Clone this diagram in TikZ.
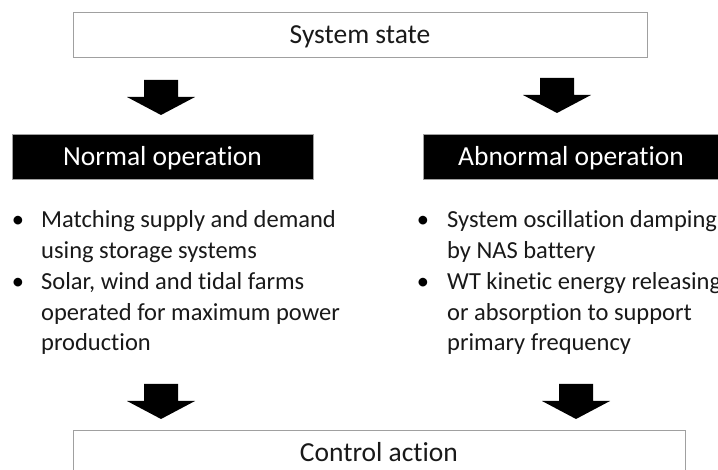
\documentclass[tikz,border=0pt]{standalone}
\usepackage{fontspec}
\setmainfont{Carlito}[Ligatures=NoCommon]
\definecolor{boxgray}{RGB}{160,160,160}
\definecolor{txt}{RGB}{25,25,25}
\begin{document}
\begin{tikzpicture}[x=1pt,y=-1pt,
  hd/.style={font=\fontsize{27.5}{33}\selectfont, inner sep=0pt, text height=17pt, text depth=0pt},
  wbox/.style={hd, draw=boxgray, line width=1pt, fill=white, text=txt},
  bbox/.style={hd, draw=boxgray, line width=1pt, fill=black, text=white},
  bl/.style={font=\fontsize{24.5}{30.8}\selectfont, inner sep=0pt, anchor=base west, text=txt},
  dot/.style={font=\fontsize{24.5}{30.8}\selectfont, inner sep=0pt, anchor=base, text=black},
  blockarrow/.pic={\fill[black] (-17,0) -- (17,0) -- (17,17) -- (34,17) -- (0,35) -- (-34,17) -- (-17,17) -- cycle;}
]
\useasboundingbox (0,0) rectangle (718,470);
\clip (0,0) rectangle (718,470);

% boxes
\node[wbox, minimum width=574pt, minimum height=45pt] (state) at (360,34.8) {System state};
\node[bbox, minimum width=301pt, minimum height=45pt] (normal) at (162.5,157.5) {Normal operation};
\node[bbox, minimum width=296pt, minimum height=45pt] (abnormal) at (571,157.5) {Abnormal operation};
\node[wbox, minimum width=612pt, minimum height=45pt] (control) at (379,453.2) {Control action};

% block arrows
\pic (arrTL) at (161,80) {blockarrow};
\pic (arrTR) at (557,78) {blockarrow};
\pic (arrBL) at (161,384) {blockarrow};
\pic (arrBR) at (576,384) {blockarrow};

% left bullets
\node[dot] (dl1) at (18,228) {\textbullet};
\node[bl] (n1) at (41,228) {Matching supply and demand};
\node[bl] (n2) at (41,259) {using storage systems};
\node[dot] (dl2) at (18,290) {\textbullet};
\node[bl] (n3) at (41,290) {Solar, wind and tidal farms};
\node[bl] (n4) at (41,320.5) {operated for maximum power};
\node[bl] (n5) at (41,351) {production};

% right bullets
\node[dot] (dr1) at (423,228) {\textbullet};
\node[bl] (a1) at (447,228) {System oscillation damping};
\node[bl] (a2) at (447,259) {by NAS battery};
\node[dot] (dr2) at (423,290) {\textbullet};
\node[bl] (a3) at (447,290) {WT kinetic energy releasing};
\node[bl] (a4) at (447,320.5) {or absorption to support};
\node[bl] (a5) at (447,351) {primary frequency};
\end{tikzpicture}
\end{document}
